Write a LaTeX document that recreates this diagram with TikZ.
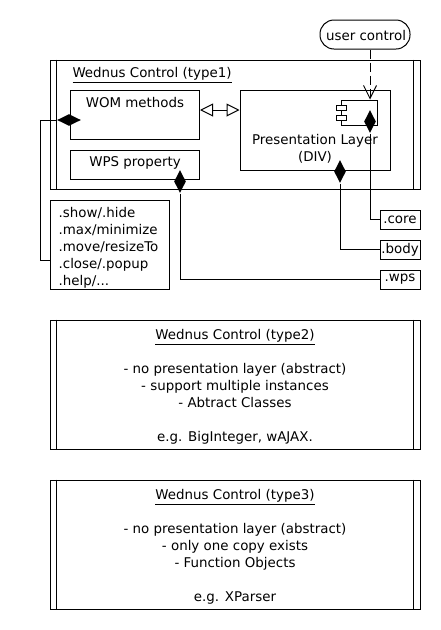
\documentclass[tikz,border=0pt]{standalone}
\usepackage{fontspec}
\setmainfont{DejaVu Sans}
\usepackage{tikz}
\usetikzlibrary{positioning, arrows.meta, shapes.geometric}
\newcommand{\sidebars}[1]{
    \draw ([xshift=7pt]#1.north west) -- ([xshift=7pt]#1.south west);
    \draw ([xshift=-7pt]#1.north east) -- ([xshift=-7pt]#1.south east);
}
\tikzset{
    box/.style={draw, line width=1pt, inner sep=0pt, align=center},
    classbox/.style={box, minimum width=370pt, minimum height=129pt},
    tagbox/.style={box, minimum width=40pt, minimum height=19pt},
    blackdiamond/.style={diamond, fill=black, inner sep=0pt, aspect=0.52, minimum width=12pt, minimum height=23pt},
    txt/.style={inner sep=0pt, align=center}
}

\begin{document}
\begin{tikzpicture}[x=1pt, y=-1pt, line width=1pt, font=\fontsize{13.4}{17}\selectfont]
    \useasboundingbox (0,0) rectangle (440,630);

    \node [box, rounded corners=14pt, minimum width=90pt, minimum height=29pt] (user) at (365,34.5) {};
    \node [txt] (usertxt) at (366,36) {user control};

    \node [classbox] (type1) at (235,124.5) {};
    \sidebars{type1}
    \node [txt, anchor=north west] (type1txt) at (72,67) {\underline{Wednus Control (type1)}};

    \node [box, minimum width=129pt, minimum height=49pt] (wom) at (135,114.5) {};
    \node [txt, below=7pt of wom.north] (womtxt) {WOM methods};
    \node [box, minimum width=129pt, minimum height=29pt] (wps) at (135,164.5) {};
    \node [txt, below=7pt of wps.north] (wpstxt) {WPS property};
    \node [box, minimum width=150pt, minimum height=80pt] (pres) at (315,130) {};
    \node [txt, above=7pt of pres.south] (prestxt) {Presentation Layer\\(DIV)};

    % component icon
    \node [box, minimum width=36pt, minimum height=25pt] (comp) at (359,112.5) {};
    \node [box, fill=white, minimum width=10pt, minimum height=5pt] (compa) at (341,107.5) {};
    \node [box, fill=white, minimum width=10pt, minimum height=5pt] (compb) at (341,117.5) {};

    \node [box, minimum width=119pt, minimum height=89pt] (notes) at (109.5,244.5) {};
    \node [txt, align=left, below=7pt of notes.north, xshift=-1pt] (notestxt)
        {.show/.hide\\.max/minimize\\.move/resizeTo\\.close/.popup\\.help/...};

    \node [tagbox] (core) at (400,219.5) {.core};
    \node [tagbox] (body) at (400,249.5) {.body};
    \node [tagbox] (wpstag) at (400,279.5) {.wps};

    \node [classbox] (type2) at (235,384.5) {};
    \sidebars{type2}
    \node [txt, below=9.5pt of type2.north] (type2txt) {\underline{Wednus Control (type2)}\\ \\- no presentation layer (abstract)\\- support multiple instances\\- Abtract Classes\\ \\e.g. BigInteger, wAJAX.};
    \node [classbox] (type3) at (235,544.5) {};
    \sidebars{type3}
    \node [txt, below=9.5pt of type3.north] (type3txt) {\underline{Wednus Control (type3)}\\ \\- no presentation layer (abstract)\\- only one copy exists\\- Function Objects\\ \\e.g. XParser};

    % connectors
    \node [blackdiamond, aspect=1.9, minimum width=24pt, minimum height=12pt] (womd) at (69,120) {};
    \node [blackdiamond] (compd) at (370,121.5) {};
    \node [blackdiamond] (presd) at (340,171.5) {};
    \node [blackdiamond] (wpsd) at (180,181.5) {};
    \coordinate (bend) at (40,120);

    \draw (womd.west) -- (bend) |- ([yshift=-15.5pt]notes.west);
    \draw (compd.south) |- (core.west);
    \draw (presd.south) |- (body.west);
    \draw (wpsd.south) |- (wpstag.west);

    \draw [dash pattern=on 9pt off 4pt, -{Straight Barb[length=13pt, width=13pt]}] (user.south -| compd) -- (comp.north -| compd);
    \draw [{Triangle[open, length=13pt, width=13pt]}-{Triangle[open, length=13pt, width=13pt]}] ([yshift=4.5pt]wom.east) -- ([yshift=20pt]pres.west);
\end{tikzpicture}
\end{document}
